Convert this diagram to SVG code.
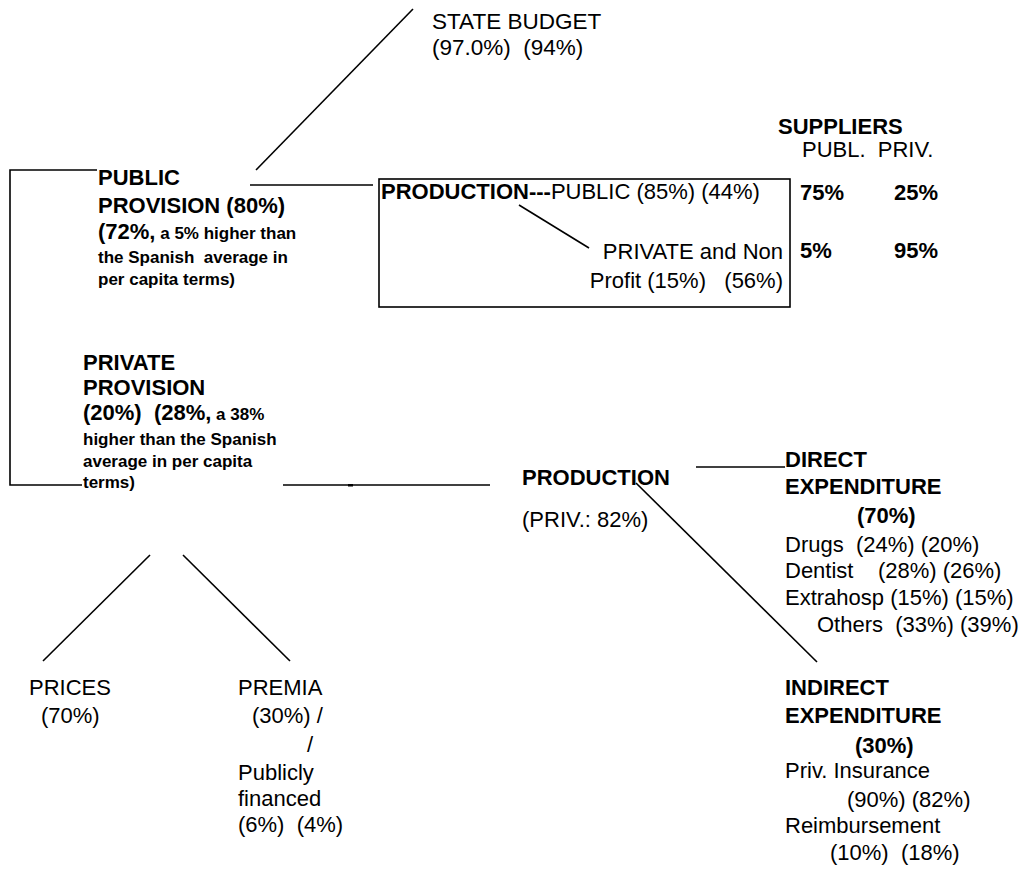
<svg xmlns="http://www.w3.org/2000/svg" width="1030" height="871" viewBox="0 0 1030 871">
<style>
text{font-family:"Liberation Sans",Arial,Helvetica,sans-serif;font-size:22px;fill:#000}
.b{font-weight:bold}
.s{font-size:17px;font-weight:bold}
.t{font-size:22.5px}
.ln{stroke:#000;stroke-width:1.6;fill:none}
</style>
<rect width="1030" height="871" fill="#fff"/>
<g id="connectors">
<line class="ln" x1="256" y1="170" x2="413" y2="9"/>
<path class="ln" d="M97 170 H10 V485 H82"/>
<line class="ln" x1="250" y1="185" x2="373" y2="185"/>
<line class="ln" x1="519" y1="205" x2="589" y2="248"/>
<line class="ln" x1="283" y1="485" x2="490" y2="485"/>
<rect x="348" y="484" width="5" height="2.5" fill="#000"/>
<line class="ln" x1="696" y1="467" x2="785" y2="467"/>
<line class="ln" x1="636" y1="483" x2="817" y2="662"/>
<line class="ln" x1="150" y1="555" x2="43" y2="661"/>
<line class="ln" x1="183" y1="555" x2="290" y2="661"/>
</g>
<g id="state-budget">
<text class="t" x="432" y="29">STATE BUDGET</text>
<text class="t" x="432" y="55" xml:space="preserve">(97.0%)  (94%)</text>
</g>
<g id="suppliers">
<text class="b" x="778" y="134">SUPPLIERS</text>
<text x="802" y="157" xml:space="preserve">PUBL.  PRIV.</text>
<text class="b" x="800" y="200">75%</text>
<text class="b" x="894" y="200">25%</text>
<text class="b" x="800" y="258">5%</text>
<text class="b" x="894" y="258">95%</text>
</g>
<g id="public-provision">
<text class="b" x="98" y="185">PUBLIC</text>
<text class="b" x="98" y="213">PROVISION (80%)</text>
<text class="b" x="98" y="239">(72%,<tspan class="s"> a 5% higher than</tspan></text>
<text class="s" x="98" y="263" xml:space="preserve">the Spanish  average in</text>
<text class="s" x="98" y="285">per capita terms)</text>
</g>
<g id="public-production">
<rect class="ln" x="379" y="179" width="411" height="128"/>
<text x="381" y="199"><tspan class="b">PRODUCTION---</tspan>PUBLIC (85%) (44%)</text>
<text x="783" y="259" text-anchor="end">PRIVATE and Non</text>
<text x="783" y="288" text-anchor="end" xml:space="preserve">Profit (15%)   (56%)</text>
</g>
<g id="private-provision">
<text class="b" x="83" y="370">PRIVATE</text>
<text class="b" x="83" y="395">PROVISION</text>
<text class="b" x="83" y="420" xml:space="preserve">(20%)  (28%,<tspan class="s"> a 38%</tspan></text>
<text class="s" x="83" y="445">higher than the Spanish</text>
<text class="s" x="83" y="467">average in per capita</text>
<text class="s" x="83" y="488">terms)</text>
</g>
<g id="private-production">
<text class="b" x="522" y="485">PRODUCTION</text>
<text x="522" y="527">(PRIV.: 82%)</text>
</g>
<g id="direct-expenditure">
<text class="b" x="785" y="467">DIRECT</text>
<text class="b" x="785" y="494">EXPENDITURE</text>
<text class="b" x="857" y="523">(70%)</text>
<text x="785" y="552" xml:space="preserve">Drugs  (24%) (20%)</text>
<text x="785" y="578" xml:space="preserve">Dentist    (28%) (26%)</text>
<text x="785" y="605">Extrahosp (15%) (15%)</text>
<text x="817" y="632" xml:space="preserve">Others  (33%) (39%)</text>
</g>
<g id="prices">
<text x="29" y="695">PRICES</text>
<text x="41" y="723">(70%)</text>
</g>
<g id="premia">
<text x="238" y="695">PREMIA</text>
<text x="252" y="723">(30%) /</text>
<text x="307" y="752">/</text>
<text x="238" y="780">Publicly</text>
<text x="238" y="806">financed</text>
<text x="238" y="832" xml:space="preserve">(6%)  (4%)</text>
</g>
<g id="indirect-expenditure">
<text class="b" x="785" y="695">INDIRECT</text>
<text class="b" x="785" y="723">EXPENDITURE</text>
<text class="b" x="855" y="753">(30%)</text>
<text x="785" y="778">Priv. Insurance</text>
<text x="847" y="807">(90%) (82%)</text>
<text x="785" y="833">Reimbursement</text>
<text x="830" y="860" xml:space="preserve">(10%)  (18%)</text>
</g>
</svg>
